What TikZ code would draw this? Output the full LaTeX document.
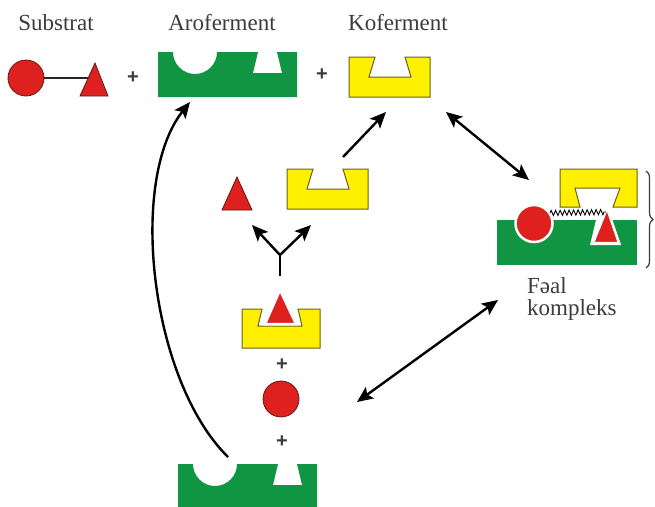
\documentclass[tikz,border=0pt]{standalone}
\usepackage{fontspec}
\setmainfont{Liberation Serif}
\newfontfamily\plusfont{Liberation Sans}
\usetikzlibrary{arrows.meta,decorations.pathmorphing,decorations.pathreplacing}
\definecolor{enzgreen}{RGB}{16,150,66}
\definecolor{coyellow}{RGB}{255,240,0}
\definecolor{coedge}{RGB}{105,95,30}
\definecolor{subred}{RGB}{222,32,30}
\definecolor{subedge}{RGB}{95,25,25}
\definecolor{labelgray}{RGB}{60,60,60}

\begin{document}
\begin{tikzpicture}[x=1pt,y=-1pt,
  lbl/.style={font=\fontsize{23}{27}\selectfont, text=labelgray, inner sep=0pt},
  plussign/.style={font=\plusfont\bfseries\fontsize{20}{24}\selectfont, text=labelgray, inner sep=0pt},
  redfill/.style={fill=subred, draw=subedge, line width=0.8pt},
  rimmed/.style={fill=subred, draw=white, line width=2.5pt},
  cofactor/.style={fill=coyellow, draw=coedge, line width=1pt},
  tip/.style={Stealth[length=16pt,width=14pt,inset=3.5pt]},
  arr/.style={line width=2.4pt, -{Stealth[length=16pt,width=14pt,inset=3.5pt]}},
  darr/.style={line width=2.4pt, {Stealth[length=16pt,width=14pt,inset=3.5pt]}-{Stealth[length=16pt,width=14pt,inset=3.5pt]}},
  % apoenzyme: block with a round pocket and a dovetail pocket
  apoenzyme/.pic={
    \fill[enzgreen] (0,0) -- (15,0)
      .. controls (15,12.15) and (24.85,22) .. (37,22)
      .. controls (49.15,22) and (59,12.15) .. (59,0)
      -- (100,0) -- (95,21) -- (124,21) -- (119,0) -- (139,0)
      -- (139,45) -- (0,45) -- cycle;
  },
  % coenzyme: block with a dovetail pocket on top
  coenzyme/.pic={
    \filldraw[cofactor] (0,0) -- (26,0) -- (20,20) -- (62,20) -- (56,0)
      -- (81,0) -- (81,40) -- (0,40) -- cycle;
  },
]
\useasboundingbox[fill=white] (0,0) rectangle (655,506);

% ---- labels of the top row
\node[lbl, anchor=base] (tSub) at (56,30) {Substrat};
\node[lbl, anchor=base] (tApo) at (222,30) {Aroferment};
\node[lbl, anchor=base] (tCo)  at (398,30) {Koferment};

% ---- substrate: circle bonded to a triangle
\draw[line width=1.3pt, black!85] (40,78) -- (88,78);
\filldraw[redfill] (26,78) circle[radius=18];
\filldraw[redfill] (95,63) -- (108,96) -- (80,96) -- cycle;

\node[plussign] (p1) at (133,78) {+};
\pic at (158,52) {apoenzyme};
\node[plussign] (p2) at (322,75) {+};
\pic at (349,57) {coenzyme};

% ---- coenzyme released and a free triangle
\fill[subred, draw=subedge, line width=0.8pt] (237,177) -- (252,210) -- (222,210) -- cycle;
\pic at (287,169) {coenzyme};

% ---- coenzyme holding the triangle
\filldraw[cofactor] (242,309) -- (262,309) -- (258,326) -- (302,326) -- (298,309)
  -- (320,309) -- (320,348) -- (242,348) -- cycle;
\filldraw[rimmed] (280,290) -- (296,324) -- (265,324) -- cycle;

\node[plussign] (p3) at (282,365) {+};
\filldraw[redfill] (281,399) circle[radius=18];
\node[plussign] (p4) at (282,442) {+};

% ---- free apoenzyme at the bottom
\pic at (178,464) {apoenzyme};

% ---- active complex
\filldraw[cofactor] (560,169) -- (637,169) -- (637,207) -- (613,207) -- (620,188)
  -- (575,188) -- (580,207) -- (560,207) -- cycle;
\fill[enzgreen] (497,220) rectangle (637,265);
\fill[white] (596,220) -- (611,220) -- (621,245) -- (590,245) -- cycle;
\filldraw[rimmed] (534,223.5) circle[radius=18.5];
\filldraw[rimmed] (607,208) -- (619,243) -- (593,243) -- cycle;
\draw[line width=0.9pt, decorate,
  decoration={zigzag, amplitude=2.6pt, segment length=4.5pt}]
  (550,213) -- (606,212);
\draw[line width=1.2pt, labelgray, decorate,
  decoration={brace, amplitude=7pt}] (646,171) -- (646,268);
\node[lbl, anchor=base west] (tAct) at (527,293) {Fəal};
\node[lbl, anchor=base west] (tAct2) at (527,315) {kompleks};

% ---- connectors
\coordinate (curveS) at (228,457);
\coordinate (curveE) at (190,102);
\draw[arr] (curveS) .. controls (150,380) and (128,180) .. (curveE);

\coordinate (coS) at (343,157);
\coordinate (coE) at (386,112);
\draw[arr] (coS) -- (coE);

\coordinate (eqA) at (446,112);
\coordinate (eqB) at (529,180);
\draw[darr] (eqA) -- (eqB);

\coordinate (eqC) at (357,402);
\coordinate (eqD) at (498,300);
\draw[darr] (eqC) -- (eqD);

\coordinate (yBase) at (280,276);
\coordinate (yFork) at (280,255);
\coordinate (yLeft) at (252,225);
\coordinate (yRight) at (311,225);
\draw[line width=2.4pt] (yBase) -- (yFork);
\draw[arr] (yFork) -- (yLeft);
\draw[arr] (yFork) -- (yRight);
\end{tikzpicture}
\end{document}
